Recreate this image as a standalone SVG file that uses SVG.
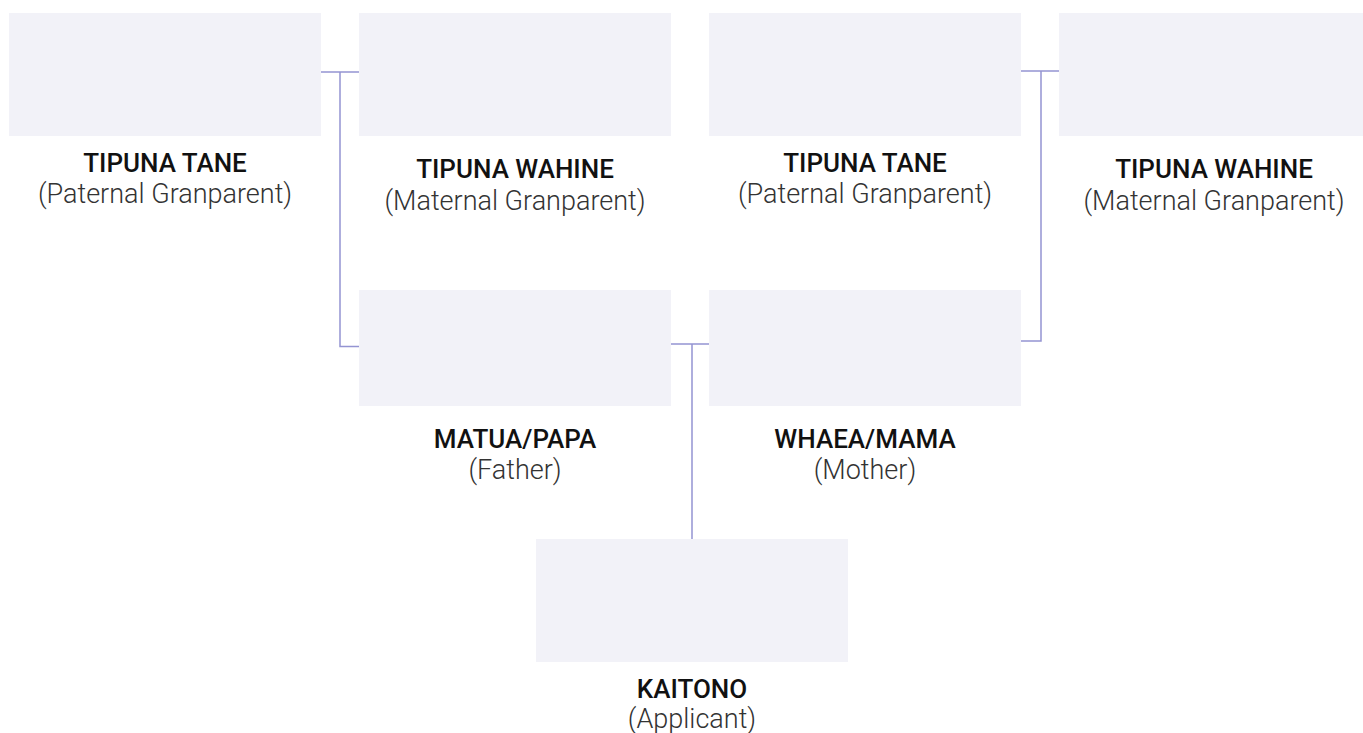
<svg xmlns="http://www.w3.org/2000/svg" width="1363" height="733" viewBox="0 0 1363 733">
<style>
.box{fill:#f2f2f8}
.conn{fill:none;stroke:#9494d2;stroke-width:1.5}
.t1{font-family:Roboto,"Liberation Sans",sans-serif;font-weight:500;font-size:26px;fill:#111;text-anchor:middle}
.t2{font-family:Roboto,"Liberation Sans",sans-serif;font-weight:300;font-size:27px;fill:#333;text-anchor:middle}
</style>
<rect width="1363" height="733" fill="#fff"/>
<g id="connectors">
<path class="conn" d="M321 72H359M340 72V346.5H359"/>
<path class="conn" d="M1021 71H1059M1041 71V341H1021"/>
<path class="conn" d="M671 344H709M692 344V539"/>
</g>
<g id="gp1"><rect class="box" x="9" y="13" width="312" height="123"/><text class="t1" x="165" y="171.7">TIPUNA TANE</text><text class="t2" x="165" y="203.3">(Paternal Granparent)</text></g>
<g id="gp2"><rect class="box" x="359" y="13" width="312" height="123"/><text class="t1" x="515" y="178.3">TIPUNA WAHINE</text><text class="t2" x="515" y="210">(Maternal Granparent)</text></g>
<g id="gp3"><rect class="box" x="709" y="13" width="312" height="123"/><text class="t1" x="865" y="171.7">TIPUNA TANE</text><text class="t2" x="865" y="203.3">(Paternal Granparent)</text></g>
<g id="gp4"><rect class="box" x="1059" y="13" width="312" height="123"/><text class="t1" x="1214" y="178.3">TIPUNA WAHINE</text><text class="t2" x="1214" y="210">(Maternal Granparent)</text></g>
<g id="father"><rect class="box" x="359" y="290" width="312" height="116"/><text class="t1" x="515" y="448.3">MATUA/PAPA</text><text class="t2" x="515" y="479">(Father)</text></g>
<g id="mother"><rect class="box" x="709" y="290" width="312" height="116"/><text class="t1" x="865" y="448.3">WHAEA/MAMA</text><text class="t2" x="865" y="479">(Mother)</text></g>
<g id="applicant"><rect class="box" x="536" y="539" width="312" height="123"/><text class="t1" x="692" y="697.7">KAITONO</text><text class="t2" x="692" y="728">(Applicant)</text></g>
</svg>
